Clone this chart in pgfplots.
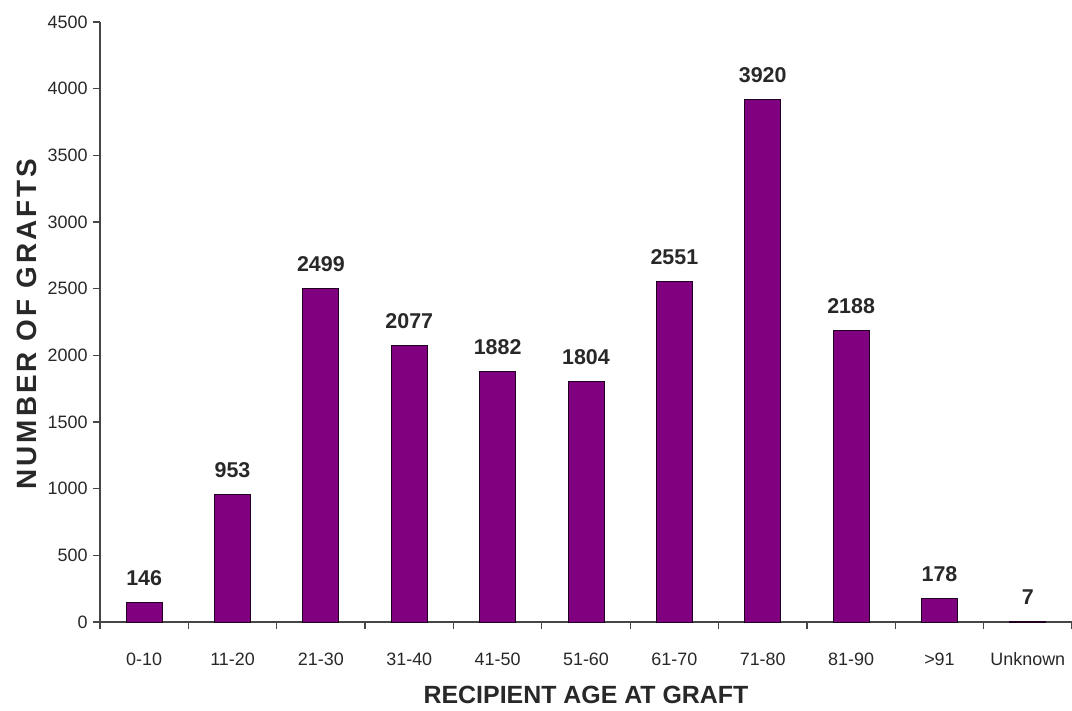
\documentclass[border=0pt]{standalone}
\usepackage{pgfplots}
\pgfplotsset{compat=1.18}
\usepackage{fontspec}
\setmainfont{Liberation Sans}
\definecolor{barpurple}{RGB}{128,0,128}
\definecolor{axisgray}{RGB}{70,70,70}
\definecolor{textgray}{RGB}{40,40,40}
\begin{document}
\begin{tikzpicture}
\path (0,0) rectangle (1072bp,711bp);
\begin{axis}[
  at={(100bp,89bp)}, anchor=south west,
  scale only axis, width=972bp, height=600bp,
  xmin=-0.5, xmax=10.5, ymin=0, ymax=4500,
  axis lines*=left,
  axis line style={axisgray, line width=1.2bp},
  xtick={0,...,10},
  xticklabels={0-10,11-20,21-30,31-40,41-50,51-60,61-70,71-80,81-90,>91,Unknown},
  major x tick style={draw=none},
  minor xtick={-0.5,0.5,...,10.5},
  minor x tick style={axisgray, line width=1.2bp},
  minor tick length=7bp,
  ytick={0,500,...,4500},
  major y tick style={axisgray, line width=1.2bp},
  major tick length=7bp,
  tick align=outside,
  /pgf/number format/assume math mode=true,
  /pgf/number format/1000 sep={},
  ticklabel style={font=\fontsize{18}{20}\selectfont, text=textgray},
  xticklabel style={yshift=-20bp},
  yticklabel style={xshift=-2bp},
  ybar, bar width=36bp,
  nodes near coords,
  nodes near coords style={font=\bfseries\fontsize{21.5}{23}\selectfont, text=textgray, yshift=13bp},
  clip=false,
]
\addplot[fill=barpurple, draw=black!75!barpurple, line width=1bp] coordinates {
(0,146) (1,953) (2,2499) (3,2077) (4,1882) (5,1804) (6,2551) (7,3920) (8,2188) (9,178) (10,7)};
\end{axis}
\node[font=\bfseries\fontsize{25}{28}\selectfont, text=textgray] at (586bp,16bp) {RECIPIENT AGE AT GRAFT};
\node[font=\bfseries\fontsize{28}{30}\selectfont\addfontfeature{LetterSpace=11}, text=textgray, rotate=90] at (27bp,387bp) {NUMBER OF GRAFTS};
\pgfresetboundingbox
\path[use as bounding box] (0,0) rectangle (1072bp,711bp);
\end{tikzpicture}
\end{document}
